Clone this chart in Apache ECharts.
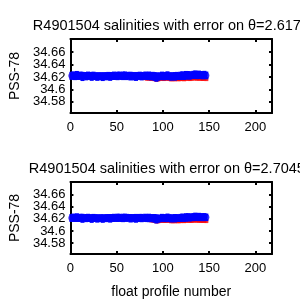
<!DOCTYPE html>
<html><head><meta charset="utf-8">
<script src="https://cdn.jsdelivr.net/npm/echarts@6/dist/echarts.min.js"></script>
<style>html,body{margin:0;padding:0;background:#fff}#c{width:300px;height:300px}</style>
</head><body><div id="c"></div>
<script>
const titles = ['R4901504 salinities with error on \u03b8=2.617\u00b0C', 'R4901504 salinities with error on \u03b8=2.7045\u00b0C'];
const yTicks = [34.58, 34.6, 34.62, 34.64, 34.66];
const yLabelsA = [34.58, 34.62, 34.66];
const yLabelsB = [34.6, 34.64];
const xTicks = [0, 50, 100, 150, 200];
const profiles = [1,3,5,7,9,11,13,15,17,19,21,23,25,27,29,31,33,35,37,39,41,43,45,47,49,51,53,55,57,59,61,63,65,67,69,71,73,75,
77,79,81,83,85,87,89,91,93,95,97,99,101,103,105,107,109,111,113,115,117,119,121,123,125,127,129,131,133,135,137,139,141,143,145,147];
const salTop = [34.6218,34.6222,34.6210,34.6225,34.6215,34.6220,34.6208,34.6217,34.6212,34.6221,
34.6214,34.6209,34.6218,34.6212,34.6206,34.6213,34.6210,34.6204,34.6214,34.6211,
34.6217,34.6208,34.6215,34.6219,34.6212,34.6216,34.6221,34.6214,34.6218,34.6223,
34.6215,34.6220,34.6213,34.6217,34.6211,34.6208,34.6214,34.6219,34.6212,34.6216,
34.6221,34.6213,34.6218,34.6210,34.6215,34.6207,34.6198,34.6204,34.6212,34.6217,
34.6210,34.6215,34.6220,34.6212,34.6206,34.6213,34.6209,34.6216,34.6211,34.6218,
34.6223,34.6215,34.6226,34.6230,34.6222,34.6228,34.6232,34.6236,34.6229,34.6234,
34.6231,34.6227,34.6233,34.6224];
const rawTop = [34.6212,34.6215,34.6205,34.6218,34.6209,34.6213,34.6202,34.6210,34.6205,34.6213,
34.6207,34.6201,34.6210,34.6204,34.6198,34.6205,34.6201,34.6195,34.6205,34.6202,
34.6207,34.6198,34.6205,34.6208,34.6201,34.6204,34.6209,34.6201,34.6205,34.6209,
34.6201,34.6205,34.6198,34.6201,34.6195,34.6192,34.6197,34.6201,
34.6193,34.6182,34.6180,34.6170,34.6176,34.6167,34.6172,34.6163,34.6155,34.6160,
34.6168,34.6172,34.6166,34.6170,34.6174,34.6166,34.6160,34.6165,34.6161,34.6166,
34.6162,34.6165,34.6168,34.6162,34.6170,34.6173,34.6166,34.6170,34.6174,34.6177,
34.6170,34.6173,34.6170,34.6167,34.6172,34.6165];
const salBot = [34.6215,34.6220,34.6212,34.6222,34.6213,34.6218,34.6210,34.6215,34.6214,34.6219,
34.6211,34.6207,34.6216,34.6214,34.6208,34.6211,34.6212,34.6206,34.6212,34.6213,
34.6215,34.6210,34.6213,34.6217,34.6214,34.6218,34.6219,34.6212,34.6216,34.6221,
34.6217,34.6218,34.6211,34.6215,34.6213,34.6210,34.6212,34.6217,
34.6214,34.6214,34.6219,34.6211,34.6216,34.6212,34.6213,34.6209,34.6200,34.6202,
34.6210,34.6215,34.6212,34.6213,34.6218,34.6214,34.6208,34.6211,34.6211,34.6214,
34.6213,34.6216,34.6221,34.6217,34.6224,34.6228,34.6224,34.6226,34.6230,34.6234,
34.6231,34.6232,34.6229,34.6229,34.6231,34.6226];
const rawBot = [34.6208,34.6212,34.6204,34.6214,34.6206,34.6210,34.6202,34.6207,34.6206,34.6211,
34.6203,34.6199,34.6208,34.6206,34.6200,34.6203,34.6204,34.6198,34.6204,34.6205,
34.6207,34.6202,34.6205,34.6209,34.6206,34.6210,34.6211,34.6204,34.6208,34.6213,
34.6209,34.6210,34.6203,34.6207,34.6205,34.6202,34.6204,34.6209,
34.6200,34.6196,34.6192,34.6186,34.6184,34.6176,34.6172,34.6167,34.6158,34.6160,
34.6166,34.6170,34.6166,34.6166,34.6170,34.6166,34.6160,34.6162,34.6161,34.6163,
34.6161,34.6163,34.6167,34.6163,34.6168,34.6171,34.6166,34.6167,34.6170,34.6173,
34.6170,34.6170,34.6167,34.6166,34.6168,34.6164];
const salErr = [0.0048,0.0052,0.0045,0.0055,0.0047,0.0050,0.0058,0.0044,0.0051,0.0049,
0.0046,0.0056,0.0050,0.0047,0.0053,0.0045,0.0049,0.0054,0.0046,0.0050,
0.0048,0.0055,0.0047,0.0051,0.0044,0.0052,0.0049,0.0046,0.0053,0.0048,
0.0050,0.0045,0.0054,0.0047,0.0051,0.0056,0.0046,0.0049,0.0052,0.0045,
0.0050,0.0047,0.0053,0.0048,0.0051,0.0055,0.0060,0.0049,0.0046,0.0052,
0.0047,0.0050,0.0054,0.0048,0.0051,0.0046,0.0053,0.0049,0.0045,0.0050,
0.0052,0.0047,0.0054,0.0049,0.0051,0.0046,0.0050,0.0053,0.0048,0.0052,
0.0047,0.0050,0.0049,0.0046];

const FONT = 'Liberation Sans, Arial, sans-serif';
const BLUE = '#0000ff', RED = '#ff0000';
const grids = [{left:68, right:28, top:39, height:74}, {left:68, right:28, top:182, height:72}];
const Y_MIN = 34.562, Y_MAX = 34.681, X_MAX = 218;

function xAx(g, pos, show, name) {
  return {type:'value', gridIndex:g, position:pos, min:0, max:X_MAX,
    axisLine:{show:true, onZero:false, lineStyle:{color:'#000', width:2}},
    axisTick:{show:true, inside:true, length:3, lineStyle:{color:'#000', width:2}, customValues:xTicks},
    axisLabel:{show:show, color:'#000', fontFamily:FONT, fontSize:13, margin:8, customValues:xTicks,
      showMinLabel:true, showMaxLabel:true, hideOverlap:false},
    splitLine:{show:false},
    name:name||'', nameLocation:'middle', nameGap:31, nameTextStyle:{color:'#000', fontFamily:FONT, fontSize:14}};
}
// kind: 'main' (left line, ticks, labels A, name), 'right' (mirror box side), 'extra' (labels B only)
function yAx(g, kind) {
  const main = kind === 'main', extra = kind === 'extra';
  return {type:'value', gridIndex:g, position: kind === 'right' ? 'right' : 'left', offset:0, min:Y_MIN, max:Y_MAX,
    axisLine:{show:!extra, onZero:false, lineStyle:{color:'#000', width:2}},
    axisTick:{show:!extra, inside:true, length:3, lineStyle:{color:'#000', width:2}, customValues:yTicks},
    axisLabel:{show:main || extra, color:'#000', fontFamily:FONT, fontSize:13, margin:5,
      customValues: extra ? yLabelsB : yLabelsA,
      showMinLabel:true, showMaxLabel:true, hideOverlap:false,
      formatter: v => String(+v.toFixed(2))},
    splitLine:{show:false},
    name: main ? 'PSS-78' : '', nameLocation:'middle', nameGap:48, nameRotate:90,
    nameTextStyle:{color:'#000', fontFamily:FONT, fontSize:14}};
}

function errItem(params, api) {
  const x = api.value(0), lo = api.value(1), hi = api.value(2);
  const pHi = api.coord([x, hi]), pLo = api.coord([x, lo]);
  const st = {stroke:BLUE, lineWidth:2};
  return {type:'group', children:[
    {type:'line', shape:{x1:pHi[0], y1:pHi[1], x2:pLo[0], y2:pLo[1]}, style:st},
    {type:'line', shape:{x1:pHi[0]-2, y1:pHi[1], x2:pHi[0]+2, y2:pHi[1]}, style:st},
    {type:'line', shape:{x1:pLo[0]-2, y1:pLo[1], x2:pLo[0]+2, y2:pLo[1]}, style:st}
  ]};
}

function seriesFor(g, sal, raw) {
  return [
    {type:'scatter', xAxisIndex:g*2, yAxisIndex:g*3, data:profiles.map((p,i)=>[p, raw[i]]),
      symbol:'rect', symbolSize:4, itemStyle:{color:RED}, silent:true, z:1},
    {type:'custom', xAxisIndex:g*2, yAxisIndex:g*3, data:profiles.map((p,i)=>[p, sal[i]-salErr[i], sal[i]+salErr[i]]),
      renderItem:errItem, silent:true, z:2},
    {type:'scatter', xAxisIndex:g*2, yAxisIndex:g*3, data:profiles.map((p,i)=>[p, sal[i]]),
      symbol:'circle', symbolSize:6, itemStyle:{color:BLUE}, silent:true, z:3}
  ];
}

const chart = echarts.init(document.getElementById('c'), null, {renderer:'canvas'});
chart.setOption({
  animation:false,
  backgroundColor:'#fff',
  title:[
    {text:titles[0], left:170, top:13, textAlign:'center', textStyle:{fontFamily:FONT, fontSize:14.5, fontWeight:'normal', color:'#000'}},
    {text:titles[1], left:170, top:156, textAlign:'center', textStyle:{fontFamily:FONT, fontSize:14.5, fontWeight:'normal', color:'#000'}}
  ],
  grid:grids,
  xAxis:[xAx(0,'bottom',true), xAx(0,'top',false), xAx(1,'bottom',true,'float profile number'), xAx(1,'top',false)],
  yAxis:[yAx(0,'main'), yAx(0,'right'), yAx(0,'extra'), yAx(1,'main'), yAx(1,'right'), yAx(1,'extra')],
  series:[...seriesFor(0, salTop, rawTop), ...seriesFor(1, salBot, rawBot)]
});
</script></body></html>
